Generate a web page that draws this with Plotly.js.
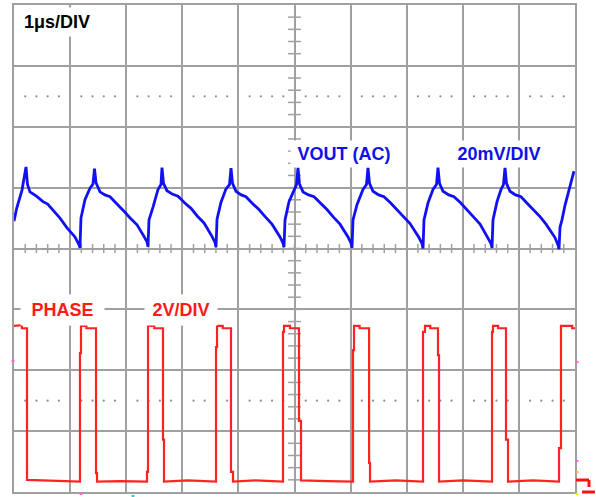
<!DOCTYPE html>
<html>
<head>
<meta charset="utf-8">
<script src="https://cdn.plot.ly/plotly-3.0.1.min.js"></script>
<style>html,body{margin:0;padding:0;background:#fff;}#chart{width:596px;height:497px;}</style>
</head>
<body>
<div id="chart"></div>
<script>
// Time in µs (1 µs/DIV), amplitude in divisions
const voutT = [0, 0.048, 0.143, 0.16, 0.214, 0.241, 0.285, 0.40, 0.517, 0.60, 0.695, 0.82, 0.945, 1.087, 1.159, 1.176,
  1.194, 1.265, 1.355, 1.408, 1.435, 1.462, 1.533, 1.62, 1.711, 1.83, 1.943, 2.07, 2.193, 2.317, 2.371, 2.389,
  2.406, 2.478, 2.567, 2.620, 2.638, 2.665, 2.727, 2.83, 2.923, 3.04, 3.155, 3.27, 3.387, 3.529, 3.583, 3.601,
  3.619, 3.690, 3.779, 3.841, 3.868, 3.895, 3.957, 4.05, 4.135, 4.25, 4.367, 4.48, 4.599, 4.742, 4.795, 4.813,
  4.831, 4.902, 4.991, 5.036, 5.062, 5.089, 5.152, 5.25, 5.348, 5.46, 5.579, 5.69, 5.811, 5.954, 6.007, 6.025,
  6.043, 6.114, 6.221, 6.283, 6.310, 6.337, 6.399, 6.50, 6.595, 6.71, 6.827, 6.94, 7.059, 7.219, 7.273, 7.291,
  7.308, 7.380, 7.469, 7.531, 7.558, 7.585, 7.647, 7.75, 7.843, 7.96, 8.075, 8.19, 8.307, 8.449, 8.503, 8.521,
  8.538, 8.610, 8.681, 8.725, 8.752, 8.779, 8.841, 8.94, 9.037, 9.15, 9.269, 9.38, 9.483, 9.643, 9.697, 9.715,
  9.733, 9.768, 9.822, 9.911, 9.982];
const voutV = [0.45, 0.66, 0.96, 1.04, 1.34, 1.05, 0.93, 0.86, 0.77, 0.73, 0.63, 0.50, 0.34, 0.19, 0.06, 0.01,
  0.50, 0.80, 0.99, 1.06, 1.31, 1.08, 0.93, 0.88, 0.85, 0.74, 0.63, 0.50, 0.39, 0.20, 0.11, 0.03,
  0.47, 0.68, 0.97, 1.05, 1.33, 1.07, 0.95, 0.89, 0.86, 0.75, 0.66, 0.53, 0.42, 0.20, 0.10, 0.02,
  0.48, 0.76, 0.98, 1.05, 1.32, 1.07, 0.94, 0.88, 0.85, 0.74, 0.64, 0.52, 0.40, 0.19, 0.09, 0.02,
  0.47, 0.77, 0.97, 1.05, 1.33, 1.06, 0.93, 0.88, 0.85, 0.75, 0.64, 0.52, 0.40, 0.19, 0.09, 0.01,
  0.47, 0.72, 0.97, 1.05, 1.33, 1.07, 0.94, 0.88, 0.85, 0.75, 0.64, 0.53, 0.41, 0.18, 0.08, 0.00,
  0.47, 0.75, 0.97, 1.05, 1.33, 1.07, 0.94, 0.88, 0.85, 0.75, 0.64, 0.52, 0.40, 0.18, 0.08, 0.01,
  0.47, 0.77, 0.97, 1.05, 1.33, 1.07, 0.94, 0.88, 0.85, 0.74, 0.63, 0.52, 0.40, 0.18, 0.06, -0.01,
  0.35, 0.47, 0.71, 1.01, 1.27];

const phaseT = [0, 0.14, 0.14, 0.232, 0.232, 0.70, 1.176,
  1.176, 1.194, 1.194, 1.29, 1.29, 1.462, 1.462, 1.48, 1.48, 1.90, 2.371,
  2.371, 2.389, 2.389, 2.50, 2.50, 2.656, 2.656, 2.674, 2.674, 3.10, 3.601,
  3.601, 3.619, 3.619, 3.72, 3.72, 3.868, 3.868, 3.904, 3.904, 4.30, 4.795,
  4.795, 4.813, 4.813, 4.92, 4.92, 5.080, 5.080, 5.116, 5.116, 5.60, 6.043,
  6.043, 6.061, 6.061, 6.16, 6.16, 6.33, 6.33, 6.346, 6.346, 6.80, 7.291,
  7.291, 7.326, 7.326, 7.42, 7.42, 7.558, 7.558, 7.576, 7.576, 8.00, 8.521,
  8.521, 8.538, 8.538, 8.63, 8.63, 8.770, 8.770, 8.806, 8.806, 9.25, 9.715,
  9.715, 9.750, 9.750, 9.95, 9.95, 10];
const phaseV = [-1.27, -1.26, -1.31, -1.31, -3.80, -3.82, -3.83,
  -1.72, -1.72, -1.27, -1.27, -1.31, -1.31, -3.69, -3.69, -3.83, -3.82, -3.83,
  -3.67, -3.67, -1.27, -1.27, -1.31, -1.31, -3.14, -3.14, -3.83, -3.81, -3.83,
  -1.62, -1.62, -1.27, -1.27, -1.31, -1.31, -3.67, -3.67, -3.83, -3.81, -3.83,
  -1.37, -1.37, -1.27, -1.27, -1.31, -1.31, -2.83, -2.83, -3.81, -3.82, -3.83,
  -1.67, -1.67, -1.27, -1.27, -1.31, -1.31, -3.52, -3.52, -3.83, -3.81, -3.83,
  -1.37, -1.37, -1.27, -1.27, -1.31, -1.31, -1.75, -1.75, -3.83, -3.81, -3.83,
  -1.37, -1.37, -1.27, -1.27, -1.31, -1.31, -3.14, -3.14, -3.83, -3.81, -3.83,
  -3.28, -3.28, -1.27, -1.27, -1.31, -1.31];

const labelTime = '1μs/DIV';
const labelVout = 'VOUT (AC)';
const labelVoutScale = '20mV/DIV';
const labelPhase = 'PHASE';
const labelPhaseScale = '2V/DIV';

const GRID = '#a0a0a0';

// graticule decorations
const shapes = [];
for (let i = 1; i < 50; i++) {
  const t = i * 0.2;
  shapes.push({type:'line', xref:'x', yref:'y', x0:t, x1:t, y0:-0.075, y1:0.075, line:{color:GRID, width:1.5}, layer:'below'});
}
for (let i = -19; i < 20; i++) {
  const v = i * 0.2;
  shapes.push({type:'line', xref:'x', yref:'y', x0:4.885, x1:5.115, y0:v, y1:v, line:{color:GRID, width:1.5}, layer:'below'});
}
const dotX = [], dotY = [];
[2.5, -2.5].forEach(v => {
  for (let i = 1; i < 50; i++) { if (i % 5 !== 0) { dotX.push(i * 0.2); dotY.push(v); } }
});

// scope channel markers (paper coords)
function px(xp){ return (xp - 14) / 561; }
function py(yp){ return (492 - yp) / 487; }
const gnd = [[576,480,589,480],[589,480,589,487],[582,492,595,492]];
gnd.forEach(s => shapes.push({type:'line', xref:'paper', yref:'paper', x0:px(s[0]), y0:py(s[1]), x1:px(s[2]), y1:py(s[3]), line:{color:'#ff1010', width:3}}));
const marks = [[577,362,'#ff66cc'],[577,461,'#ff66cc'],[577,472,'#ffaa66'],[577,494,'#ffee00'],[13,361,'#ff66cc'],[81,494,'#ff66cc'],[133,496,'#33cccc']];
marks.forEach(m => shapes.push({type:'rect', xref:'paper', yref:'paper', x0:px(m[0]-1.5), x1:px(m[0]+1.5), y0:py(m[1]+1), y1:py(m[1]-1), line:{width:0}, fillcolor:m[2]}));

const traces = [
  {x: dotX, y: dotY, mode:'markers', marker:{size:2.2, color:'#8c8c8c'}, hoverinfo:'skip', showlegend:false},
  {x: voutT, y: voutV, mode:'lines', line:{color:'#1010f2', width:2.8}, showlegend:false},
  {x: phaseT, y: phaseV, mode:'lines', line:{color:'#ff2222', width:2.2}, showlegend:false}
];

const fnt = (c) => ({family:'Liberation Sans, Arial, sans-serif', size:18, color:c, weight:'bold'});
const ann = (text, x, y, w, h, c) => ({text, x, y, xref:'x', yref:'y', showarrow:false, xanchor:'center', yanchor:'middle', width:w, height:h, bgcolor:'#ffffff', borderpad:0, font:fnt(c)});

const layout = {
  width: 596, height: 497,
  margin: {l:14, r:21, t:5, b:5},
  paper_bgcolor:'#ffffff', plot_bgcolor:'#ffffff',
  showlegend:false,
  xaxis: {range:[0,10], dtick:1, tick0:0, showgrid:true, gridcolor:GRID, gridwidth:2, zeroline:false, showticklabels:false, ticks:'', showline:true, mirror:true, linecolor:GRID, linewidth:2, fixedrange:true},
  yaxis: {range:[-4,4], dtick:1, tick0:0, showgrid:true, gridcolor:GRID, gridwidth:2, zeroline:false, showticklabels:false, ticks:'', showline:true, mirror:true, linecolor:GRID, linewidth:2, fixedrange:true},
  shapes: shapes,
  annotations: [
    ann(labelTime, 0.766, 3.72, 78, 28, '#000000'),
    ann(labelVout, 5.882, 1.55, 106, 26, '#1010e8'),
    ann(labelVoutScale, 8.654, 1.55, 96, 26, '#1010e8'),
    ann(labelPhase, 0.873, -1.01, 83, 30, '#ff1a1a'),
    ann(labelPhaseScale, 2.977, -1.01, 72, 30, '#ff1a1a')
  ]
};

Plotly.newPlot('chart', traces, layout, {displayModeBar:false, staticPlot:true});
</script>
</body>
</html>
